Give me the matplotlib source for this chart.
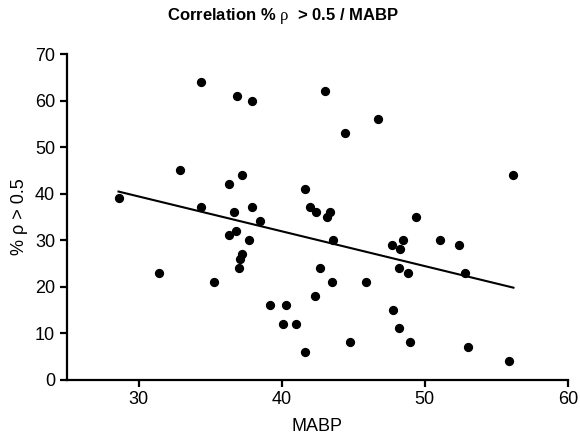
import numpy as np
import matplotlib.pyplot as plt

plt.rcParams['font.family'] = ['Liberation Sans', 'DejaVu Sans']
plt.rcParams['mathtext.fontset'] = 'custom'
plt.rcParams['mathtext.rm'] = 'Liberation Serif'

# MABP values (x) and % rho > 0.5 (y)
mabp = [28.6, 31.4, 32.9, 34.4, 34.4, 35.3, 36.3, 36.3, 36.7, 36.8,
        36.9, 37.0, 37.1, 37.2, 37.2, 37.7, 37.9, 37.9, 38.5, 39.2,
        40.1, 40.3, 41.0, 41.6, 41.6, 42.0, 42.3, 42.4, 42.7, 43.0,
        43.2, 43.4, 43.5, 43.6, 44.4, 44.8, 45.9, 46.7, 47.7, 47.8,
        48.2, 48.2, 48.3, 48.5, 48.8, 49.0, 49.4, 51.1, 52.4, 52.8,
        53.0, 55.9, 56.2]
pct_rho = [39, 23, 45, 64, 37, 21, 42, 31, 36, 32,
           61, 24, 26, 27, 44, 30, 60, 37, 34, 16,
           12, 16, 12, 41, 6, 37, 18, 36, 24, 62,
           35, 36, 21, 30, 53, 8, 21, 56, 29, 15,
           24, 11, 28, 30, 23, 8, 35, 30, 29, 23,
           7, 4, 44]

x_ticks = [30, 40, 50, 60]
y_ticks = [0, 10, 20, 30, 40, 50, 60, 70]

x = np.array(mabp)
y = np.array(pct_rho)
slope, intercept = np.polyfit(x, y, 1)
xl = np.array([x.min(), x.max()])

fig = plt.figure(figsize=(5.8, 4.43), dpi=100)
ax = fig.add_axes([0.1155, 0.1433, 0.8635, 0.7347])

ax.plot(xl, slope * xl + intercept, color='black', lw=1.5)
ax.scatter(x, y, s=32, color='black', zorder=3, clip_on=False)

ax.set_xlim(25, 60)
ax.set_ylim(0, 70)
ax.set_xticks(x_ticks)
ax.set_yticks(y_ticks)
for s in ['top', 'right']:
    ax.spines[s].set_visible(False)
for s in ['left', 'bottom']:
    ax.spines[s].set_linewidth(1.6)
ax.tick_params(width=1.6, length=5, labelsize=13)

ax.set_xlabel('MABP', fontsize=13, labelpad=7)
ax.set_ylabel('% ρ > 0.5', fontsize=13, labelpad=5)

fig.text(283 / 580, 1 - 16 / 443, r'Correlation % $\mathrm{ρ}$  > 0.5 / MABP',
         ha='center', va='center', fontsize=12, fontweight='bold')

fig.savefig('out.png', dpi=100)
